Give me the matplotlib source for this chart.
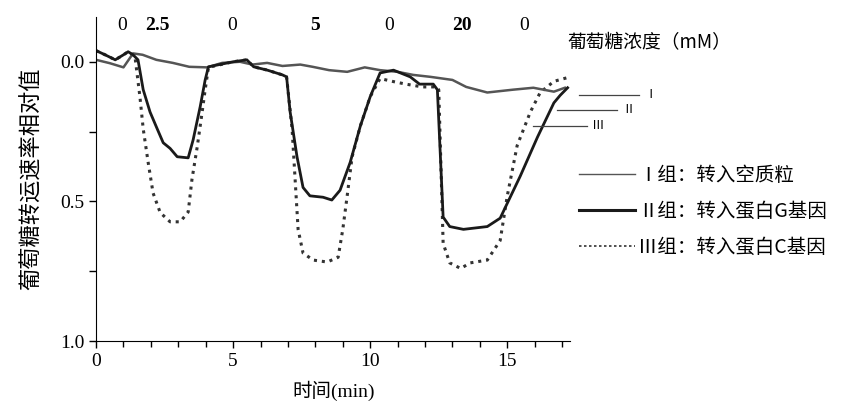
import matplotlib.pyplot as plt
from matplotlib.lines import Line2D

# time (min) and relative glucose transport rate
t_I = [0, 0.5, 1.0, 1.35, 1.7, 2.2, 2.8, 3.4, 4.05, 4.6, 5.25, 5.7, 6.24, 6.8, 7.45,
       7.9, 8.5, 9.16, 9.8, 10.36, 11.0, 11.57, 12.2, 13.0, 13.5, 14.27, 15.2, 15.95,
       16.7, 17.1]
v_I = [-0.007, 0.005, 0.02, -0.03, -0.025, -0.007, 0.004, 0.018, 0.02, 0.004, 0.0,
       0.01, 0.004, 0.015, 0.01, 0.018, 0.03, 0.036, 0.02, 0.03, 0.036, 0.047, 0.054,
       0.065, 0.09, 0.11, 0.1, 0.093, 0.107, 0.093]

t_II = [0, 0.33, 0.7, 1.0, 1.17, 1.35, 1.53, 1.72, 1.97, 2.23, 2.45, 2.7, 2.96, 3.36,
        3.54, 3.8, 3.98, 4.1, 5.0, 5.5, 5.75, 6.25, 6.8, 6.95, 7.08, 7.33, 7.55, 7.8,
        8.28, 8.6, 8.9, 9.27, 9.64, 10.0, 10.36, 10.85, 11.46, 11.8, 12.3, 12.45,
        12.66, 12.9, 13.4, 14.27, 14.74, 15.47, 16.1, 16.7, 16.93, 17.2]
v_II = [-0.04, -0.025, -0.007, -0.025, -0.036, -0.025, -0.007, 0.1, 0.18, 0.24, 0.29,
        0.31, 0.34, 0.344, 0.28, 0.16, 0.065, 0.018, 0.0, -0.007, 0.018, 0.03, 0.047,
        0.054, 0.18, 0.34, 0.45, 0.48, 0.485, 0.495, 0.46, 0.36, 0.23, 0.125, 0.04,
        0.03, 0.054, 0.08, 0.08, 0.1, 0.556, 0.59, 0.6, 0.59, 0.56, 0.41, 0.27, 0.147,
        0.12, 0.093]

t_III = [0, 0.33, 0.7, 1.0, 1.17, 1.42, 1.6, 1.72, 1.9, 2.08, 2.34, 2.7, 3.07, 3.36,
         3.5, 3.69, 3.87, 3.98, 4.1, 5.0, 5.5, 5.75, 6.25, 6.8, 6.95, 7.15, 7.26, 7.37,
         7.55, 7.92, 8.43, 8.83, 9.0, 9.16, 9.34, 9.64, 10.0, 10.36, 10.8, 11.3, 11.9,
         12.4, 12.5, 12.66, 12.9, 13.3, 13.65, 14.27, 14.74, 15.0, 15.36, 15.84, 16.2,
         16.7, 17.3]
v_III = [-0.04, -0.025, -0.007, -0.025, -0.036, -0.018, 0.125, 0.24, 0.36, 0.47, 0.54,
         0.573, 0.573, 0.538, 0.42, 0.305, 0.18, 0.1, 0.02, 0.0, -0.007, 0.018, 0.03,
         0.047, 0.054, 0.24, 0.42, 0.6, 0.685, 0.71, 0.717, 0.7, 0.6, 0.48, 0.34, 0.23,
         0.125, 0.06, 0.07, 0.08, 0.09, 0.09, 0.1, 0.65, 0.72, 0.74, 0.72, 0.71, 0.64,
         0.48, 0.30, 0.18, 0.11, 0.07, 0.054]

# glucose concentration (mM) written above each period
conc_labels = ["0", "2.5", "0", "5", "0", "20", "0"]
conc_x = [0.95, 2.23, 4.96, 8.0, 10.7, 13.36, 15.6]

labels = ["Ⅰ组：转入空质粒", "Ⅱ组：转入蛋白G基因", "Ⅲ组：转入蛋白C基因"]
tags = ["Ⅰ", "Ⅱ", "Ⅲ"]

serif = ['Liberation Serif', 'Noto Sans CJK SC']
cjk = ['Noto Sans CJK SC', 'DejaVu Sans']

fig = plt.figure(figsize=(8.5, 4.07), dpi=100)
ax = fig.add_axes([0.113, 0.162, 0.558, 0.796])

ax.plot(t_III, v_III, color='#333333', lw=2.2, ls=(0, (1, 1.6)))
ax.plot(t_I, v_I, color='#555555', lw=1.8)
ax.plot(t_II, v_II, color='#1a1a1a', lw=2.0)

ax.set_xlim(0, 17.3)
ax.set_ylim(1.0, -0.16)
for s in ['top', 'right']:
    ax.spines[s].set_visible(False)
ax.spines['left'].set_bounds(1.0, -0.16)

ax.set_xticks([0, 5, 10, 15])
ax.set_xticks(range(0, 18), minor=True)
ax.set_yticks([0.0, 0.5, 1.0])
ax.set_yticklabels(["0.0", "0.5", "1.0"])
ax.set_yticks([0.25, 0.75], minor=True)
ax.tick_params(which='both', direction='out', length=5, width=1, labelsize=14)
ax.tick_params(axis='x', which='minor', length=4)
for lab in ax.get_xticklabels() + ax.get_yticklabels():
    lab.set_family(serif)

ax.set_xlabel("时间(min)", family=serif, fontsize=14, labelpad=8)
ax.set_ylabel("葡萄糖转运速率相对值", family=cjk, fontsize=16, labelpad=12)

for x, lab in zip(conc_x, conc_labels):
    ax.text(x, -0.13, lab, ha='center', va='center', family=serif, fontsize=14,
            fontweight='bold' if lab != "0" else 'normal')
fig.text(0.667, 0.895, "葡萄糖浓度（mM）", family=cjk, fontsize=13.5, va='center')

# group tags next to the curve ends
tag_x0 = [17.6, 16.8, 15.95]
tag_x1 = [19.8, 19.0, 17.9]
tag_y = [0.118, 0.172, 0.23]
for x0, x1, y, tg in zip(tag_x0, tag_x1, tag_y, tags):
    ax.plot([x0, x1], [y, y], color='#444444', lw=0.9, clip_on=False)
    ax.text(x1 + 0.2, y, tg, family=serif, fontsize=9, va='center', clip_on=False)

handles = [Line2D([], [], color='#555555', lw=1.0),
           Line2D([], [], color='#1a1a1a', lw=2.2),
           Line2D([], [], color='#333333', lw=1.2, ls=(0, (1.5, 1.5)))]
leg = fig.legend(handles, labels, loc='upper left', bbox_to_anchor=(0.66, 0.637),
                 frameon=False, handlelength=2.9, handletextpad=0.15,
                 labelspacing=0.75, prop={'family': cjk, 'size': 14})

fig.savefig("out.png", dpi=100)
